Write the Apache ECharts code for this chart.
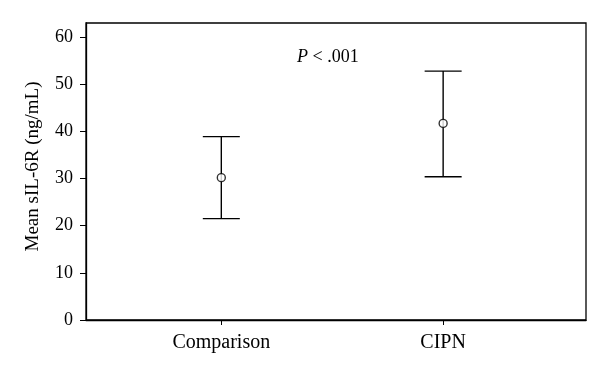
<!DOCTYPE html>
<html>
<head>
<meta charset="utf-8">
<script src="https://cdn.jsdelivr.net/npm/echarts@6/dist/echarts.min.js"></script>
<style>
  html, body { margin: 0; padding: 0; background: #fff; }
  #chart { width: 600px; height: 377px; }
</style>
</head>
<body>
<div id="chart"></div>
<script>
// groups, positions on the x scale
const groups = ['Comparison', 'CIPN'];
const groupPos = [1, 2];
// mean and error bar ends (ng/mL)
const means = [30.2, 41.7];
const lows = [21.5, 30.4];
const highs = [38.9, 52.8];
const yTicks = [0, 10, 20, 30, 40, 50, 60];

const font = '"Liberation Serif", "DejaVu Serif", serif';

const chart = echarts.init(document.getElementById('chart'));

const barData = groupPos.map((x, i) => [x, lows[i], highs[i]]);
const meanData = groupPos.map((x, i) => [x, means[i]]);

chart.setOption({
  animation: false,
  grid: {
    left: 86, right: 14, top: 23, bottom: 57,
    show: true, borderColor: '#000', borderWidth: 1.3
  },
  xAxis: {
    type: 'value',
    min: 0.39, max: 2.644,
    splitLine: { show: false },
    axisLine: { lineStyle: { color: '#000', width: 1.3 } },
    axisTick: { show: true, customValues: groupPos, length: 5, lineStyle: { color: '#000' } },
    axisLabel: {
      customValues: groupPos,
      formatter: v => groups[groupPos.indexOf(v)] || '',
      color: '#000', fontFamily: font, fontSize: 20, margin: 13
    }
  },
  yAxis: {
    type: 'value',
    min: 0, max: 63,
    name: 'Mean sIL-6R (ng/mL)',
    nameLocation: 'middle',
    nameGap: 43,
    nameRotate: 90,
    nameTextStyle: { color: '#000', fontFamily: font, fontSize: 19, padding: [0, 0, 0, 10] },
    splitLine: { show: false },
    axisLine: { show: true, lineStyle: { color: '#000', width: 1.3 } },
    axisTick: { show: true, customValues: yTicks, length: 6, lineStyle: { color: '#000' } },
    axisLabel: {
      customValues: yTicks,
      color: '#000', fontFamily: font, fontSize: 18, margin: 13
    }
  },
  graphic: [{
    type: 'text',
    left: 297, top: 48,
    style: {
      text: '{i|P} < .001',
      fontFamily: font, fontSize: 18, fill: '#000',
      rich: { i: { fontStyle: 'italic', fontFamily: font, fontSize: 18 } }
    }
  }],
  series: [{
    type: 'custom',
    data: barData,
    renderItem: (params, api) => {
      const lo = api.coord([api.value(0), api.value(1)]);
      const hi = api.coord([api.value(0), api.value(2)]);
      const hw = 18.5;
      const style = { stroke: '#000', lineWidth: 1.4 };
      return {
        type: 'group',
        children: [
          { type: 'line', shape: { x1: lo[0], y1: lo[1], x2: hi[0], y2: hi[1] }, style },
          { type: 'line', shape: { x1: hi[0] - hw, y1: hi[1], x2: hi[0] + hw, y2: hi[1] }, style },
          { type: 'line', shape: { x1: lo[0] - hw, y1: lo[1], x2: lo[0] + hw, y2: lo[1] }, style }
        ]
      };
    },
    z: 2
  }, {
    type: 'scatter',
    data: meanData,
    symbol: 'circle',
    symbolSize: 8,
    itemStyle: { color: '#fff', borderColor: '#000', borderWidth: 1.4 },
    z: 3
  }]
});
</script>
</body>
</html>
